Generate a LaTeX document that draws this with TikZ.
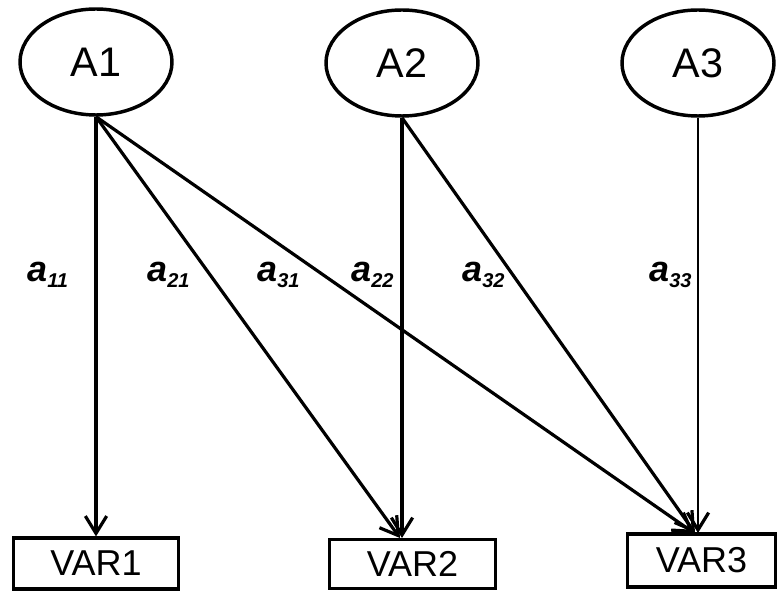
\documentclass[tikz,border=0pt]{standalone}
\usepackage{fontspec}
\setmainfont{Liberation Sans}
\usetikzlibrary{shapes.geometric,arrows.meta}
\newcommand\coefa[1]{{\fontsize{27}{27}\selectfont\bfseries\itshape a}{\fontsize{15}{15}\selectfont\bfseries\itshape\raisebox{-4pt}{#1}}}
\begin{document}
\begin{tikzpicture}[x=0.75pt,y=-0.75pt,
 latent/.style={ellipse,draw,line width=2.6pt,minimum width=114pt,minimum height=79.5pt,inner sep=0pt,font=\fontsize{31}{31}\selectfont},
 obs/.style={rectangle,draw,line width=2.6pt,inner sep=0pt,font=\fontsize{27}{27}\selectfont},
 conn/.style={line width=2.4pt,-{Straight Barb[length=13pt,width=16pt,line width=2.4pt]}},
 lab/.style={anchor=base west,inner sep=0pt}]
\useasboundingbox (0,0) rectangle (779,591);
\node[latent] (A1) at (96,62) {A1};
\node[latent] (A2) at (402,63) {A2};
\node[latent] (A3) at (698,63) {A3};
\node[obs,minimum width=124pt,minimum height=38pt] (V1) at (96,563.5) {VAR1};
\node[obs,minimum width=124.5pt,minimum height=37pt] (V2) at (412.5,564) {VAR2};
\node[obs,minimum width=111pt,minimum height=39.5pt] (V3) at (701.5,560.5) {VAR3};
\coordinate (e21) at (400,538);
\coordinate (e22) at (402,538);
\coordinate (e31) at (694,533);
\coordinate (e32) at (695,533);
\coordinate (e33) at (698,533);
\draw[conn] (A1.south) -- (V1.north);
\draw[conn] (A1.south) -- (e21);
\draw[conn] (A1.south) -- (e31);
\draw[conn] (A2.south) -- (e22);
\draw[conn] (A2.south) -- (e32);
\draw[conn,line width=1.1pt] (A3.south) -- (e33);
\node[lab] (l11) at (27,282) {\coefa{11}};
\node[lab] (l21) at (147,282) {\coefa{21}};
\node[lab] (l31) at (257,282) {\coefa{31}};
\node[lab] (l22) at (351,282) {\coefa{22}};
\node[lab] (l32) at (462,282) {\coefa{32}};
\node[lab] (l33) at (649,282) {\coefa{33}};
\end{tikzpicture}
\end{document}
